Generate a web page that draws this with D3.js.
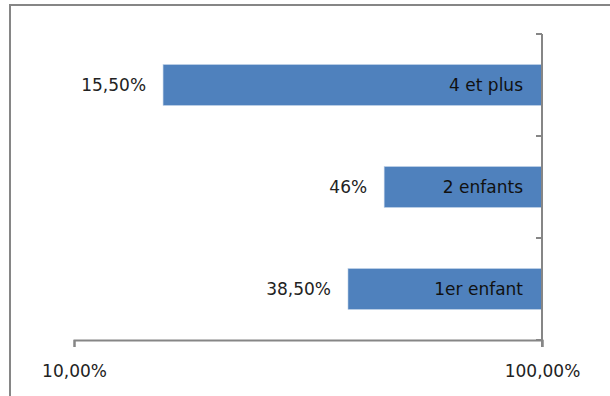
<!DOCTYPE html>
<html><head><meta charset="utf-8">
<script src="https://cdn.jsdelivr.net/npm/d3@7"></script>
<style>body{margin:0;background:#fff}</style>
</head><body>
<script>
const categories = ["4 et plus", "2 enfants", "1er enfant"];
const values = [0.155, 0.46, 0.385];
const valueLabels = ["15,50%", "46%", "38,50%"];
const tickValues = [0.1, 1];
const tickLabels = ["10,00%", "100,00%"];

const W = 610, H = 396;
const svg = d3.select("body").append("svg").attr("width", W).attr("height", H);
const font = "'DejaVu Sans', sans-serif";

// chart area border (top and left visible)
svg.append("path").attr("d", "M10,400 V5 H610")
  .attr("fill", "none").attr("stroke", "#868686").attr("stroke-width", 2);

const x = d3.scaleLog().domain([0.1, 1]).range([74, 542]);
const y = d3.scaleBand().domain(categories).range([34, 340]).paddingInner(0.6).paddingOuter(0.3);

const axisColor = "#868686";
svg.selectAll("rect.bar").data(categories).enter().append("rect")
  .attr("class", "bar")
  .attr("x", (d, i) => x(values[i]))
  .attr("width", (d, i) => x(1) - x(values[i]))
  .attr("y", d => y(d))
  .attr("height", y.bandwidth())
  .attr("fill", "#4F81BD")
  .attr("stroke", "#B9CDE5").attr("stroke-width", 0.6);

// x axis
const xAxis = svg.append("g").attr("transform", `translate(0,${y.range()[1]})`)
  .call(d3.axisBottom(x).tickValues(tickValues).tickFormat((d, i) => tickLabels[i]).tickSizeOuter(0).tickSize(7).tickPadding(18));
xAxis.select(".domain").attr("stroke", axisColor).attr("stroke-width", 2);
xAxis.selectAll(".tick line").attr("stroke", axisColor).attr("stroke-width", 2);
xAxis.selectAll("text").attr("font-family", font).attr("font-size", 17).attr("fill", "#222");

// y axis at right (x=100%)
const yAxisG = svg.append("g").attr("transform", `translate(${x(1)},0)`);
yAxisG.append("line").attr("x1", 0).attr("x2", 0).attr("y1", y.range()[0]).attr("y2", y.range()[1] + 7)
  .attr("stroke", axisColor).attr("stroke-width", 2);
const bounds = categories.map(c => y(c) - y.step() * y.paddingInner() / 2);
bounds.push(y.range()[1]);
bounds[0] = y.range()[0];
yAxisG.selectAll("line.tk").data(bounds).enter().append("line").attr("class", "tk")
  .attr("x1", -6).attr("x2", 0).attr("y1", d => d).attr("y2", d => d)
  .attr("stroke", axisColor).attr("stroke-width", 2);

// category labels inside bars
svg.selectAll("text.cat").data(categories).enter().append("text")
  .attr("class", "cat")
  .attr("x", x(1) - 19)
  .attr("y", d => y(d) + y.bandwidth() / 2)
  .attr("dy", "0.36em")
  .attr("text-anchor", "end")
  .attr("font-family", font).attr("font-size", 17).attr("fill", "#111")
  .text(d => d);

// value labels
svg.selectAll("text.val").data(categories).enter().append("text")
  .attr("class", "val")
  .attr("x", (d, i) => x(values[i]) - 17)
  .attr("y", d => y(d) + y.bandwidth() / 2)
  .attr("dy", "0.36em")
  .attr("text-anchor", "end")
  .attr("font-family", font).attr("font-size", 17).attr("fill", "#222")
  .text((d, i) => valueLabels[i]);
</script>
</body></html>
